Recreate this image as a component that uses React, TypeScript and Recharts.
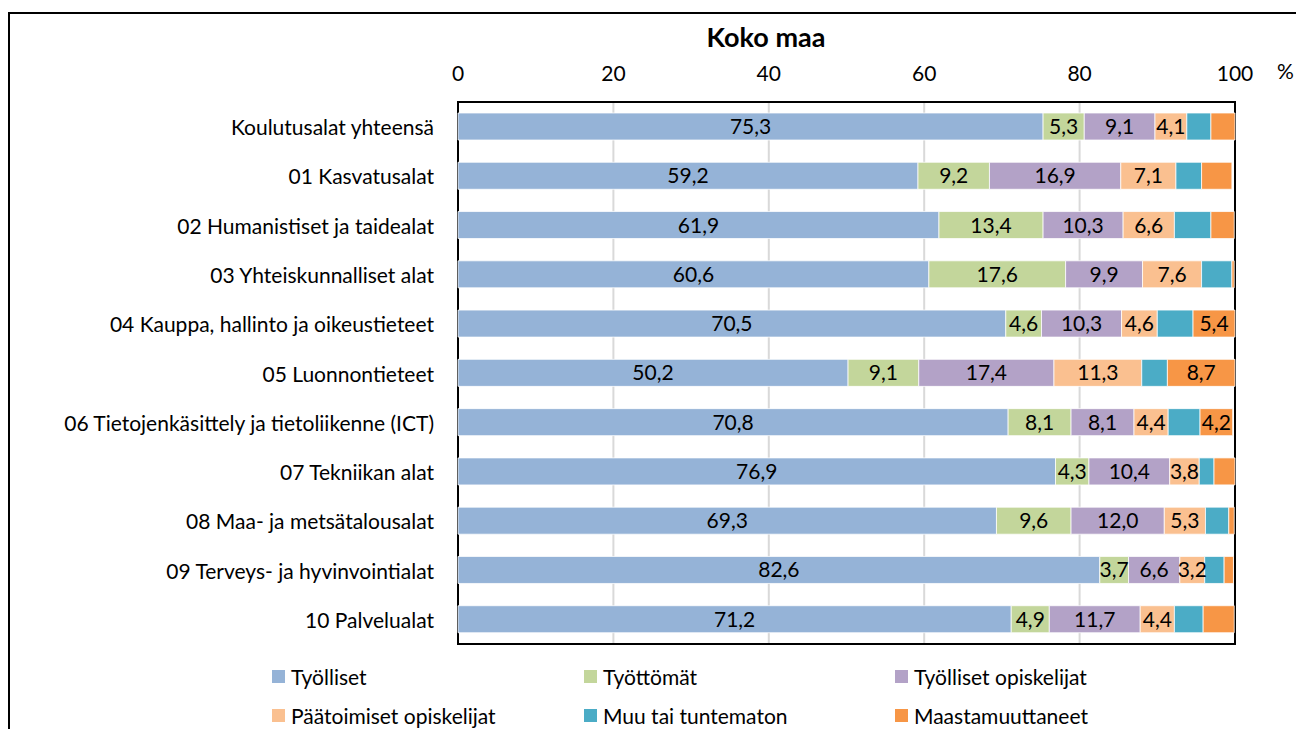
import React from "react";
import {
  BarChart,
  Bar,
  XAxis,
  YAxis,
  CartesianGrid,
  LabelList,
  ReferenceArea,
} from "recharts";

const categories = [
  "Koulutusalat yhteensä",
  "01 Kasvatusalat",
  "02 Humanistiset ja taidealat",
  "03 Yhteiskunnalliset alat",
  "04 Kauppa, hallinto ja oikeustieteet",
  "05 Luonnontieteet",
  "06 Tietojenkäsittely ja tietoliikenne (ICT)",
  "07 Tekniikan alat",
  "08 Maa- ja metsätalousalat",
  "09 Terveys- ja hyvinvointialat",
  "10 Palvelualat",
];

const tyolliset = [75.3, 59.2, 61.9, 60.6, 70.5, 50.2, 70.8, 76.9, 69.3, 82.6, 71.2];
const tyottomat = [5.3, 9.2, 13.4, 17.6, 4.6, 9.1, 8.1, 4.3, 9.6, 3.7, 4.9];
const tyollOpisk = [9.1, 16.9, 10.3, 9.9, 10.3, 17.4, 8.1, 10.4, 12.0, 6.6, 11.7];
const paatoim = [4.1, 7.1, 6.6, 7.6, 4.6, 11.3, 4.4, 3.8, 5.3, 3.2, 4.4];
const muu = [3.1, 3.3, 4.7, 3.9, 4.6, 3.3, 4.1, 1.9, 3.0, 2.5, 3.7];
const maasto = [3.1, 3.9, 3.0, 0.3, 5.4, 8.7, 4.2, 2.7, 0.7, 1.2, 4.0];

const xTicks = [0, 20, 40, 60, 80, 100];

const series = [
  { key: "tyolliset", name: "Työlliset", color: "#95B3D7", label: true },
  { key: "tyottomat", name: "Työttömät", color: "#C3D69B", label: true },
  { key: "tyollOpisk", name: "Työlliset opiskelijat", color: "#B3A2C7", label: true },
  { key: "paatoim", name: "Päätoimiset opiskelijat", color: "#FAC090", label: true },
  { key: "muu", name: "Muu tai tuntematon", color: "#4BACC6", label: false },
  { key: "maasto", name: "Maastamuuttaneet", color: "#F79646", label: true },
];

const data = categories.map((name, i) => ({
  name,
  tyolliset: tyolliset[i],
  tyottomat: tyottomat[i],
  tyollOpisk: tyollOpisk[i],
  paatoim: paatoim[i],
  muu: muu[i],
  maasto: maasto[i],
}));

const FONT = "Lato, 'Liberation Sans', sans-serif";
const FS = 21;
const fmt = (v: number) => v.toFixed(1).replace(".", ",");

const YTick = ({ y, payload }: any) => (
  <text x={434} y={y} textAnchor="end" dominantBaseline="central" fontSize={FS} fill="#000" fontFamily={FONT}>
    {payload.value}
  </text>
);

const XTick = ({ x, payload }: any) => (
  <text x={x} y={72} textAnchor="middle" dominantBaseline="central" fontSize={FS} fill="#000" fontFamily={FONT}>
    {payload.value}
  </text>
);

export default function App() {
  return (
    <div
      style={{
        position: "absolute",
        left: 0,
        top: 0,
        width: 1296,
        height: 729,
        overflow: "hidden",
        background: "#fff",
        fontFamily: FONT,
      }}
    >
      <div
        style={{
          position: "absolute",
          left: 8,
          top: 12,
          width: 1400,
          height: 900,
          border: "2px solid #000",
        }}
      />
      <div
        style={{
          position: "absolute",
          left: 0,
          width: 1532,
          top: 20,
          textAlign: "center",
          fontSize: 27,
          fontWeight: 700,
          lineHeight: "34px",
        }}
      >
        Koko maa
      </div>
      <div style={{ position: "absolute", left: 1277, top: 58, fontSize: FS, lineHeight: "26px" }}>%</div>
      <div style={{ position: "absolute", left: 0, top: 0 }}>
        <BarChart
          width={1296}
          height={729}
          data={data}
          layout="vertical"
          margin={{ top: 72, right: 61, bottom: 85, left: 0 }}
        >
          <CartesianGrid horizontal={false} stroke="#D9D9D9" strokeWidth={2} />
          <XAxis
            type="number"
            orientation="top"
            domain={[0, 100]}
            ticks={xTicks}
            height={30}
            axisLine={false}
            tickLine={false}
            tick={<XTick />}
            interval={0}
          />
          <YAxis
            type="category"
            dataKey="name"
            width={458}
            axisLine={false}
            tickLine={false}
            tick={<YTick />}
            interval={0}
          />
          {series.map((s) => (
            <Bar
              key={s.key}
              dataKey={s.key}
              name={s.name}
              stackId="a"
              fill={s.color}
              stroke="#fff"
              strokeWidth={0.75}
              barSize={27}
              isAnimationActive={false}
            >
              {s.label && (
                <LabelList
                  dataKey={s.key}
                  position="center"
                  fill="#000"
                  fontSize={FS}
                  fontFamily={FONT}
                  formatter={(v: any) =>
                    s.key === "maasto" ? (Number(v) >= 4.2 ? fmt(Number(v)) : "") : fmt(Number(v))
                  }
                />
              )}
            </Bar>
          ))}
          <ReferenceArea x1={0} x2={100} fill="none" stroke="#000" strokeWidth={2} ifOverflow="visible" />
        </BarChart>
      </div>
      {series.map((s, i) => {
        const col = i % 3;
        const row = Math.floor(i / 3);
        const left = [272, 584, 895][col];
        const top = [669, 708][row];
        return (
          <div
            key={s.key}
            style={{
              position: "absolute",
              left,
              top,
              display: "flex",
              alignItems: "center",
              height: 14,
              fontSize: FS,
              whiteSpace: "nowrap",
            }}
          >
            <span style={{ width: 13, height: 13, background: s.color, marginRight: 6, display: "inline-block", flex: "none" }} />
            <span>{s.name}</span>
          </div>
        );
      })}
    </div>
  );
}
